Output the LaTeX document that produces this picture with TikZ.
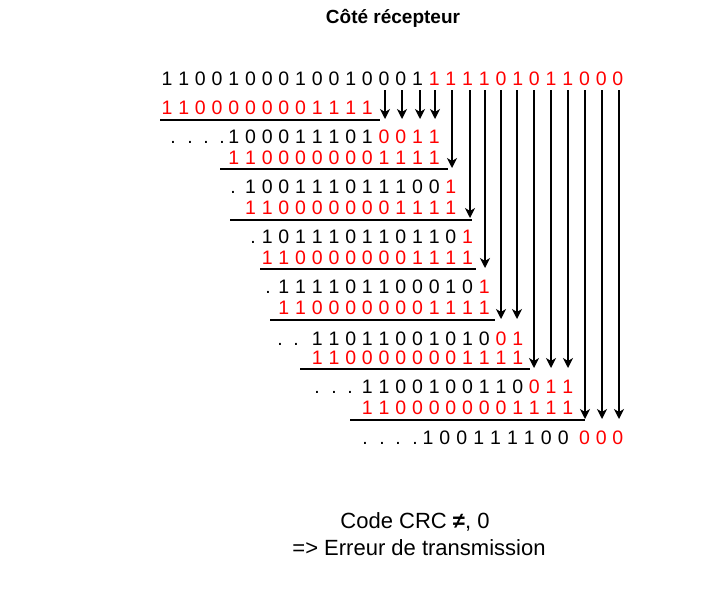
\documentclass[tikz,border=0pt]{standalone}
\usepackage{fontspec}
\setmainfont{Liberation Sans}
\usetikzlibrary{arrows.meta}
\definecolor{crcred}{HTML}{FF0000}

\begin{document}
\begin{tikzpicture}[x=1pt,y=-1pt,
  bit/.style={inner sep=0pt,anchor=base,font=\fontsize{19.5}{23}\selectfont},
  redbit/.style={bit,text=crcred},
  rule/.style={line width=2.4pt},
  carry/.style={line width=1.4pt,-{Stealth[length=10pt,width=10pt,inset=3pt]}}]
\useasboundingbox (0,0) rectangle (721,592);
\node (title) at (393,23) [anchor=base,font=\bfseries\fontsize{19}{23}\selectfont] {Côté récepteur};
% received frame
\foreach \b [count=\i from 0] in {1,1,0,0,1,0,0,0,1,0,0,1,0,0,0,1}
  \node (frame\i) at (167+16.7*\i,85) [bit] {\b};
\foreach \b [count=\i from 16] in {1,1,1,1,0,1,0,1,1,0,0,0}
  \node (frame\i) at (167+16.7*\i,85) [redbit] {\b};
% generator under each step
\foreach \r/\c/\y in {1/0/114,2/4/164,3/5/214,4/6/264,5/7/314,6/9/364,7/12/414}
  \foreach \b [count=\i from \c] in {1,1,0,0,0,0,0,0,0,1,1,1,1}
    \node (gen\r-\i) at (167+16.7*\i,\y) [redbit] {\b};
% partial remainders
\foreach \x [count=\i] in {173,190,206,222} \node (dotA\i) at (\x,143) [bit] {.};
\foreach \b [count=\i from 4] in {1,0,0,0,1,1,1,0,1}
  \node (remA\i) at (167+16.7*\i,143) [bit] {\b};
\foreach \b [count=\i from 13] in {0,0,1,1}
  \node (remA\i) at (167+16.7*\i,143) [redbit] {\b};
\node (dotB1) at (233,193) [bit] {.};
\foreach \b [count=\i from 5] in {1,0,0,1,1,1,0,1,1,1,0,0}
  \node (remB\i) at (167+16.7*\i,193) [bit] {\b};
\node (remB17) at (167+16.7*17,193) [redbit] {1};
\node (dotC1) at (253,243) [bit] {.};
\foreach \b [count=\i from 6] in {1,0,1,1,1,0,1,1,0,1,1,0}
  \node (remC\i) at (167+16.7*\i,243) [bit] {\b};
\node (remC18) at (167+16.7*18,243) [redbit] {1};
\node (dotD1) at (268,293) [bit] {.};
\foreach \b [count=\i from 7] in {1,1,1,1,0,1,1,0,0,0,1,0}
  \node (remD\i) at (167+16.7*\i,293) [bit] {\b};
\node (remD19) at (167+16.7*19,293) [redbit] {1};
\foreach \x [count=\i] in {280,296} \node (dotE\i) at (\x,345) [bit] {.};
\foreach \b [count=\i from 9] in {1,1,0,1,1,0,0,1,0,1,0}
  \node (remE\i) at (167+16.7*\i,345) [bit] {\b};
\foreach \b [count=\i from 20] in {0,1}
  \node (remE\i) at (167+16.7*\i,345) [redbit] {\b};
\foreach \x [count=\i] in {317,334,350} \node (dotF\i) at (\x,393) [bit] {.};
\foreach \b [count=\i from 12] in {1,1,0,0,1,0,0,1,1,0}
  \node (remF\i) at (167+16.7*\i,393) [bit] {\b};
\foreach \b [count=\i from 22] in {0,1,1}
  \node (remF\i) at (167+16.7*\i,393) [redbit] {\b};
\foreach \x [count=\i] in {365,382,398,415} \node (dotG\i) at (\x,444) [bit] {.};
\foreach \b [count=\i from 0] in {1,0,0,1,1,1,1,0,0}
  \node (remG\i) at (428+16.9*\i,444) [bit] {\b};
\foreach \b [count=\i from 25] in {0,0,0}
  \node (remG\i) at (167+16.7*\i,444) [redbit] {\b};
% subtraction rules
\draw [rule] (160,120) -- (380,120);
\draw [rule] (220,169) -- (448,169);
\draw [rule] (230,220) -- (472,220);
\draw [rule] (260,269) -- (476,269);
\draw [rule] (270,320) -- (495,320);
\draw [rule] (300,369) -- (530,369);
\draw [rule] (350,420) -- (585,420);
% bits brought down
\foreach \c/\x/\y in {13/385/119,14/402/119,15/420/119,16/435/119,17/452/168,
    18/470/218,19/485/268,20/501/319,21/517/319,22/534/368,23/551/368,
    24/568/368,25/585/419,26/602/419,27/619/419} {
  \coordinate (top\c) at (\x,90);
  \coordinate (tip\c) at (\x,\y);
  \draw [carry] (top\c) -- (tip\c);
}
\node (crc) at (415,528) [anchor=base,font=\fontsize{22}{26}\selectfont] {Code CRC \textbf{≠}, 0};
\node (err) at (419,555) [anchor=base,font=\fontsize{22}{26}\selectfont] {=> Erreur de transmission};
\end{tikzpicture}
\end{document}
